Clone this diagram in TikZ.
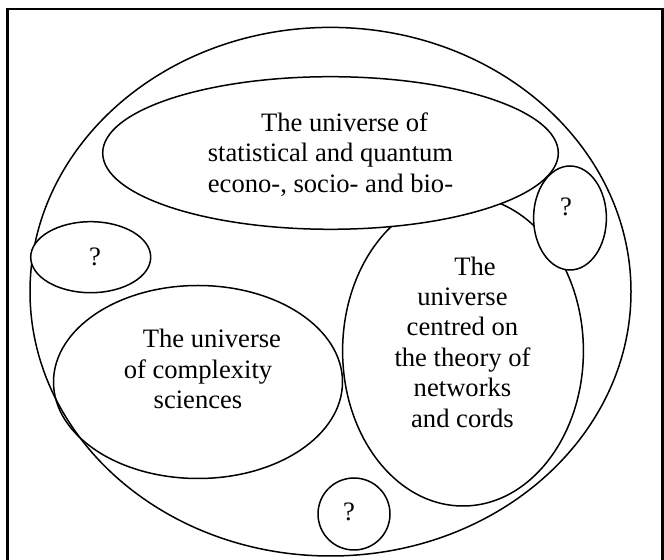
\documentclass[tikz,border=0pt]{standalone}
\usepackage{fontspec}
\setmainfont{Liberation Serif}
\usetikzlibrary{shapes.geometric}

\begin{document}
\begin{tikzpicture}[
			x=0.5pt, y=-0.5pt,
			universe/.style={ellipse, draw, line width=0.75pt, inner sep=0pt},
			query/.style={universe, fill=white},
			txt/.style={align=center, inner sep=0pt, font=\fontsize{13.3}{15.2}\selectfont}
			]
			\useasboundingbox (0,0) rectangle (664,560);
			\clip (0,0) rectangle (664,560);
			% Frame
			\draw [line width=1.1pt] (7.5,9) rectangle (662.5,590);
			
			% Ellipses
			\node (outer) [universe, minimum width=300.5pt, minimum height=264.3pt] at (330.5,291.7) {};
			\node (cplx) [universe, minimum width=144.5pt, minimum height=96.5pt] at (198,382) {};
			\node (netw) [universe, minimum width=120.4pt, minimum height=155pt] at (463,351) {};
			\node (stat) [query, minimum width=227.8pt, minimum height=76.3pt] at (330.5,153) {};
			\node (qleft) [query, minimum width=60pt, minimum height=35.5pt] at (90.7,257.2) {};
			\node (qright) [query, minimum width=36.4pt, minimum height=52pt] at (570,218) {};
			\node (qbottom) [query, minimum width=36pt, minimum height=36pt] at (354,514) {};
			
			% Texts
			\node (stattext) [txt] at (330.5,154.3) {\hspace*{14pt}The universe of\\statistical and quantum\\econo-, socio- and bio-};
			\node (cplxtext) [txt] at (198,369) {\hspace*{14pt}The universe\\of complexity\\sciences};
			\node (netwtext) [txt] at (462.5,342) {\hspace*{12.5pt}The\\universe\\centred on\\the theory of\\networks\\and cords};
			\node (qlefttext) [txt] at (95,256.5) {?};
			\node (qrighttext) [txt] at (566,207) {?};
			\node (qbottomtext) [txt] at (349,512) {?};
		\end{tikzpicture}
\end{document}
